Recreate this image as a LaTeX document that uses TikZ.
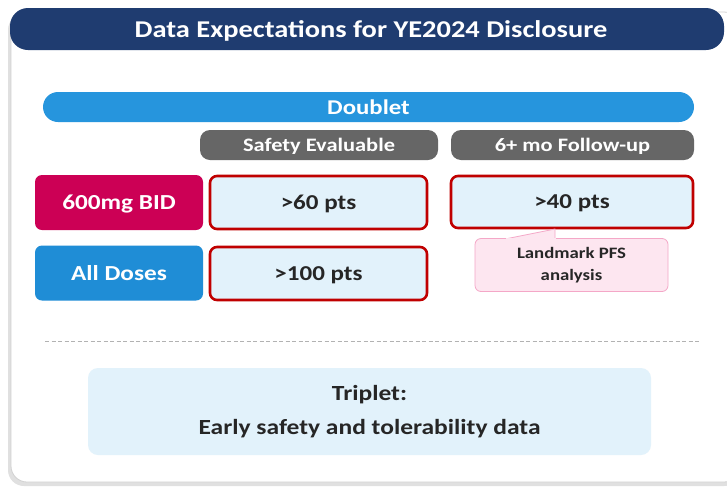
\documentclass[tikz,border=0pt]{standalone}
\usepackage{fontspec}
\setmainfont{Carlito}[FakeStretch=1.18]
\usetikzlibrary{shadows}
\definecolor{navy}{HTML}{1F3C70}
\definecolor{skyblue}{HTML}{2695DD}
\definecolor{pillgray}{HTML}{666666}
\definecolor{crimson}{HTML}{CC0055}
\definecolor{doseblue}{HTML}{1F8DD6}
\definecolor{paleblue}{HTML}{E2F2FB}
\definecolor{darkred}{HTML}{C00000}
\definecolor{pinkfill}{HTML}{FDE6F0}
\definecolor{pinkline}{HTML}{F4A7C7}
\definecolor{inktext}{HTML}{262626}
\tikzset{
  x=1pt, y=-1pt,
  box/.style={rounded corners=7pt, inner sep=0pt, font=\bfseries},
  one line/.style={text depth=0pt},
  label box/.style={box, one line, fill=#1, text=white, font=\bfseries\fontsize{21.4}{24}\selectfont},
  pill/.style={box, one line, fill=pillgray, text=white, rounded corners=10pt, font=\bfseries\fontsize{19}{22}\selectfont},
  count box/.style={box, one line, fill=paleblue, draw=darkred, line width=2.6pt, text=inktext, font=\bfseries\fontsize{21.2}{24}\selectfont},
}
\begin{document}
\begin{tikzpicture}
\useasboundingbox (0,0) rectangle (727,488);
\fill[white] (0,0) rectangle (727,488);
% panel with soft shadow
\fill[black!12, rounded corners=16pt] (8,14) rectangle (740,486);
\filldraw[fill=white, draw=black!18, line width=0.8pt, rounded corners=16pt] (11,12) rectangle (740,482);
% title bar
\fill[navy, rounded corners=18pt] (10,8) rectangle (724,50);
\node[one line, text=white, font=\bfseries\fontsize{24.1}{27}\selectfont] (title) at (371,29.5) {Data Expectations for YE2024 Disclosure};
% doublet header and columns
\node[box, one line, fill=skyblue, rounded corners=15pt, minimum width=651pt, minimum height=30pt, text=white, font=\bfseries\fontsize{21}{24}\selectfont] (doublet) at (368.5,107) {Doublet};
\node[pill, minimum width=238pt, minimum height=30pt] (safety) at (319,145) {Safety Evaluable};
\node[pill, minimum width=243pt, minimum height=30pt] (follow) at (572.5,145) {6+ mo Follow-up};
% rows
\node[label box=crimson, minimum width=168pt, minimum height=55pt] (bid) at (119,202.5) {600mg BID};
\node[label box=doseblue, minimum width=168pt, minimum height=55pt] (all) at (119,273) {All Doses};
\node[count box, minimum width=217pt, minimum height=53pt] (c60) at (318.5,202.5) {>60 pts};
\node[count box, minimum width=242pt, minimum height=52pt] (c40) at (572,202) {>40 pts};
\node[count box, minimum width=217pt, minimum height=53pt] (c100) at (318.5,273.5) {>100 pts};
% callout under the follow-up count
\node[box, fill=pinkfill, draw=pinkline, line width=0.8pt, rounded corners=6pt, minimum width=193pt, minimum height=53pt, align=center, text=inktext, font=\bfseries\fontsize{15.9}{22}\selectfont] (pfs) at (571.5,265) {Landmark PFS\\analysis};
\coordinate (tip) at (555,229);
\filldraw[fill=pinkfill, draw=pinkline, line width=0.8pt] (507,238.6) -- (tip) -- (555,238.6);
\fill[pinkfill] (506,238) rectangle (556,240);
% separator
\draw[black!30, dashed, dash pattern=on 4pt off 2.5pt, line width=0.8pt] (45,341) -- (700,341);
% triplet
\node[box, fill=paleblue, rounded corners=10pt, minimum width=563pt, minimum height=87pt, align=center, text=inktext, font=\bfseries\fontsize{21.6}{34}\selectfont] (triplet) at (369.5,411.5) {Triplet:\\Early safety and tolerability data};
\end{tikzpicture}
\end{document}
